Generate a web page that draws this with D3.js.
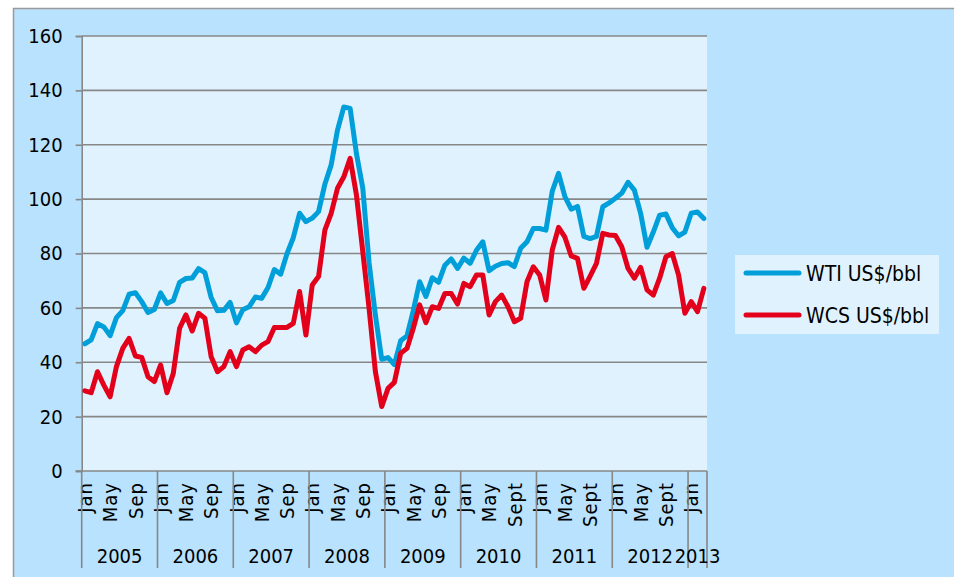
<!DOCTYPE html>
<html>
<head>
<meta charset="utf-8">
<script src="https://cdn.jsdelivr.net/npm/d3@7"></script>
<style>
  body { margin: 0; background: #fff; }
  text { font-family: "DejaVu Sans Condensed", "DejaVu Sans", sans-serif; fill: #000; }
</style>
</head>
<body>
<svg id="chart" width="954" height="577"></svg>
<script>
// years shown on the category axis and how many months each one holds
var years = ["2005", "2006", "2007", "2008", "2009", "2010", "2011", "2012", "2013"];
var monthsInYear = [12, 12, 12, 12, 12, 12, 12, 12, 3];
// month labels shown every fourth month within each year
var monthLabels = [
  ["Jan", "May", "Sep"], ["Jan", "May", "Sep"], ["Jan", "May", "Sep"],
  ["Jan", "May", "Sep"], ["Jan", "May", "Sep"], ["Jan", "May", "Sept"],
  ["Jan", "May", "Sept"], ["Jan", "May", "Sept"], ["Jan"]
];
var yTicks = [0, 20, 40, 60, 80, 100, 120, 140, 160];

// US$/bbl, monthly, Jan 2005 - Mar 2013
var wti = [
  46.8, 48.2, 54.2, 53.0, 49.8, 56.4, 59.0, 65.0, 65.6, 62.3, 58.3, 59.4,
  65.5, 61.6, 62.7, 69.4, 70.8, 71.0, 74.4, 73.0, 63.8, 58.9, 59.1, 62.0,
  54.5, 59.3, 60.4, 64.0, 63.5, 67.5, 74.1, 72.4, 79.9, 85.8, 94.8, 91.7,
  93.0, 95.4, 105.5, 112.6, 125.4, 133.9, 133.4, 116.7, 104.1, 76.6, 57.3, 41.1,
  41.7, 39.1, 47.9, 49.7, 59.0, 69.6, 64.2, 71.1, 69.4, 75.7, 78.0, 74.5,
  78.3, 76.4, 81.2, 84.3, 73.7, 75.3, 76.3, 76.6, 75.2, 81.9, 84.3, 89.2,
  89.2, 88.6, 102.9, 109.5, 100.9, 96.3, 97.3, 86.3, 85.5, 86.3, 97.2, 98.6,
  100.3, 102.2, 106.2, 103.3, 94.7, 82.3, 87.9, 94.1, 94.5, 89.5, 86.5, 87.9,
  94.8, 95.3, 92.9
];
var wcs = [
  29.5, 28.8, 36.5, 31.6, 27.3, 38.4, 45.1, 48.8, 42.3, 41.8, 34.7, 32.9,
  39.0, 28.8, 35.9, 52.5, 57.4, 51.5, 58.0, 56.2, 42.0, 36.5, 38.4, 43.9,
  38.4, 44.5, 45.7, 43.9, 46.3, 47.6, 52.8, 52.8, 52.8, 54.3, 66.0, 50.0,
  68.4, 71.5, 88.6, 94.8, 104.0, 108.2, 115.0, 101.5, 80.7, 59.8, 36.5, 23.7,
  30.4, 32.6, 43.3, 45.1, 52.5, 61.1, 54.6, 60.4, 59.8, 65.3, 65.3, 61.4,
  69.0, 67.8, 72.1, 72.1, 57.4, 62.3, 64.7, 60.4, 54.9, 56.2, 69.6, 75.1,
  72.1, 62.9, 81.3, 89.6, 86.0, 79.1, 78.2, 67.2, 71.7, 76.4, 87.4, 86.8,
  86.6, 82.5, 74.5, 70.9, 74.9, 66.6, 64.7, 70.9, 78.8, 80.0, 72.1, 58.0,
  62.3, 58.6, 67.2
];
var seriesNames = ["WTI US$/bbl", "WCS US$/bbl"];
var seriesColors = ["#009fda", "#e3001b"];

// build category keys  (year-monthIndex)
var keys = [], labelFor = {};
years.forEach(function(yr, yi) {
  for (var m = 0; m < monthsInYear[yi]; m++) {
    var k = yr + "-" + m;
    keys.push(k);
    if (m % 4 == 0) labelFor[k] = monthLabels[yi][m / 4];
  }
});

var svg = d3.select("#chart");
var plotL = 81.7, plotR = 707, plotT = 36, plotB = 471;
var fontFam = "'DejaVu Sans Condensed', 'DejaVu Sans', sans-serif";

var x = d3.scaleBand().domain(keys).range([plotL, plotR]).padding(0);
var y = d3.scaleLinear().domain([0, 160]).range([plotB, plotT]);
var cx = function(k) { return x(k) + x.bandwidth() / 2; };

// outer chart area
svg.append("rect")
  .attr("x", 13.5).attr("y", 8.5)
  .attr("width", 980).attr("height", 600)
  .attr("fill", "#b8e2fd")
  .attr("stroke", "#9a9a9a")
  .attr("stroke-width", 1.5);

// plot area
svg.append("rect")
  .attr("x", plotL).attr("y", plotT)
  .attr("width", plotR - plotL).attr("height", plotB - plotT)
  .attr("fill", "#e0f2fe");

// gridlines
svg.append("g").selectAll("line")
  .data(yTicks.slice(1))
  .enter().append("line")
  .attr("x1", plotL).attr("x2", plotR)
  .attr("y1", function(d) { return y(d); })
  .attr("y2", function(d) { return y(d); })
  .attr("stroke", "#878787")
  .attr("stroke-width", 1.6);

// y axis
var yAxis = svg.append("g")
  .attr("transform", "translate(" + plotL + ",0)")
  .call(d3.axisLeft(y).tickValues(yTicks).tickSize(6).tickPadding(13));
yAxis.selectAll("path, line").attr("stroke", "#878787").attr("stroke-width", 1.6);
yAxis.selectAll("text")
  .style("font-family", fontFam)
  .style("font-size", "20px");

// x axis (month labels)
var xAxis = svg.append("g")
  .attr("transform", "translate(0," + plotB + ")")
  .call(d3.axisBottom(x)
    .tickValues(keys.filter(function(k) { return labelFor[k]; }))
    .tickFormat(function(k) { return labelFor[k]; })
    .tickSize(0));
xAxis.select(".domain").remove();
xAxis.selectAll("text")
  .attr("transform", "rotate(-90)")
  .attr("text-anchor", "end")
  .attr("x", -11).attr("y", 0).attr("dy", "0.36em")
  .style("font-family", fontFam)
  .style("font-size", "20px")
  .style("letter-spacing", "1px");

// bottom axis line
svg.append("line")
  .attr("x1", plotL - 6).attr("x2", plotR)
  .attr("y1", plotB).attr("y2", plotB)
  .attr("stroke", "#878787").attr("stroke-width", 1.6);

// year separators and labels
var yearSpans = [], start = 0;
years.forEach(function(yr, yi) {
  yearSpans.push({ year: yr, first: keys[start], last: keys[start + monthsInYear[yi] - 1] });
  start += monthsInYear[yi];
});
var sepX = yearSpans.map(function(d) { return x(d.first); }).concat([plotR]);
svg.append("g").selectAll("line")
  .data(sepX)
  .enter().append("line")
  .attr("x1", function(d) { return d; }).attr("x2", function(d) { return d; })
  .attr("y1", plotB).attr("y2", 568)
  .attr("stroke", "#878787").attr("stroke-width", 1.6);

svg.append("g").selectAll("text")
  .data(yearSpans)
  .enter().append("text")
  .attr("x", function(d) { return (x(d.first) + x(d.last) + x.bandwidth()) / 2; })
  .attr("y", 563)
  .attr("text-anchor", "middle")
  .style("font-size", "20px")
  .text(function(d) { return d.year; });

// the two price lines
var line = d3.line()
  .x(function(d, i) { return cx(keys[i]); })
  .y(function(d) { return y(d); });

svg.append("g").selectAll("path")
  .data([wti, wcs])
  .enter().append("path")
  .attr("d", line)
  .attr("fill", "none")
  .attr("stroke", function(d, i) { return seriesColors[i]; })
  .attr("stroke-width", 5)
  .attr("stroke-linejoin", "round")
  .attr("stroke-linecap", "round");

// legend
var legend = svg.append("g");
legend.append("rect")
  .attr("x", 735).attr("y", 255)
  .attr("width", 204).attr("height", 79)
  .attr("fill", "#e0f2fe");
var items = legend.selectAll("g.item")
  .data(seriesNames)
  .enter().append("g")
  .attr("class", "item")
  .attr("transform", function(d, i) { return "translate(0," + (273 + i * 42) + ")"; });
items.append("line")
  .attr("x1", 746).attr("x2", 799)
  .attr("stroke", function(d, i) { return seriesColors[i]; })
  .attr("stroke-width", 5)
  .attr("stroke-linecap", "round");
items.append("text")
  .attr("x", 806).attr("dy", "0.36em")
  .style("font-size", "21px")
  .text(function(d) { return d; });
</script>
</body>
</html>
